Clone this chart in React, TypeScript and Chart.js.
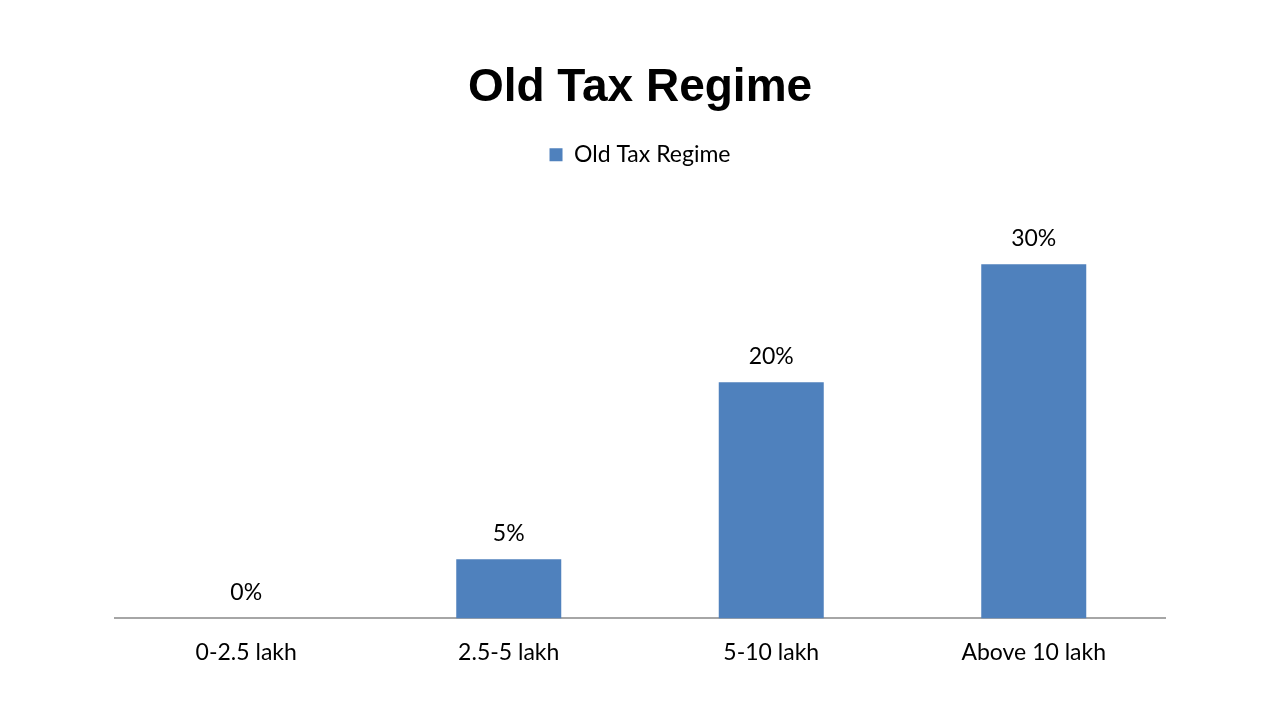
import React, { useEffect, useRef } from "react";
import { Chart, registerables } from "chart.js";

Chart.register(...registerables);

const categories = ["0-2.5 lakh", "2.5-5 lakh", "5-10 lakh", "Above 10 lakh"];
const seriesName = "Old Tax Regime";
const taxRates = [0, 5, 20, 30];
const chartTitle = "Old Tax Regime";

const LABEL_FONT = "Lato, 'Liberation Sans', sans-serif";

const dataLabelPlugin = {
  id: "dataLabels",
  afterDatasetsDraw(chart: any) {
    const ctx = chart.ctx;
    const meta = chart.getDatasetMeta(0);
    const values = chart.data.datasets[0].data as number[];
    ctx.save();
    ctx.font = `23px ${LABEL_FONT}`;
    ctx.fillStyle = "#000000";
    ctx.textAlign = "center";
    ctx.textBaseline = "middle";
    meta.data.forEach((el: any, i: number) => {
      ctx.fillText(`${values[i]}%`, el.x, el.y - 26);
    });
    ctx.restore();
  },
};

const legendMarginPlugin = {
  id: "legendMargin",
  beforeInit(chart: any) {
    const legend = chart.legend;
    if (!legend) return;
    const origFit = legend.fit;
    legend.fit = function () {
      origFit.bind(legend)();
      this.height += 29;
    };
  },
};

export default function App() {
  const canvasRef = useRef<HTMLCanvasElement | null>(null);

  useEffect(() => {
    document.body.style.margin = "0";
    const canvas = canvasRef.current;
    if (!canvas) return;
    const chart = new Chart(canvas, {
      type: "bar",
      data: {
        labels: categories,
        datasets: [
          {
            label: seriesName,
            data: taxRates,
            backgroundColor: "#4F81BD",
            borderWidth: 0,
            categoryPercentage: 1,
            barPercentage: 0.4,
          },
        ],
      },
      options: {
        animation: false,
        responsive: true,
        maintainAspectRatio: false,
        layout: { padding: { top: 0, left: 115, right: 115, bottom: 34 } },
        plugins: {
          title: {
            display: true,
            text: chartTitle,
            color: "#000000",
            font: { family: "'Liberation Sans', Arial, sans-serif", size: 46, weight: "bold" },
            padding: { top: 61, bottom: 17 },
          },
          legend: {
            display: true,
            position: "top",
            labels: {
              color: "#000000",
              boxWidth: 13,
              boxHeight: 13,
              font: { family: LABEL_FONT, size: 23 },
            },
          },
          tooltip: { enabled: false },
        },
        scales: {
          x: {
            grid: { display: false, drawTicks: false },
            border: { display: true, color: "#A6A6A6", width: 2 },
            ticks: {
              color: "#000000",
              padding: 20,
              font: { family: LABEL_FONT, size: 23 },
            },
          },
          y: {
            display: false,
            min: 0,
            max: 35,
          },
        },
      },
      plugins: [dataLabelPlugin, legendMarginPlugin],
    });
    return () => chart.destroy();
  }, []);

  return (
    <div style={{ position: "fixed", left: 0, top: 0, width: 1280, height: 720, background: "#ffffff" }}>
      <canvas ref={canvasRef} />
    </div>
  );
}
